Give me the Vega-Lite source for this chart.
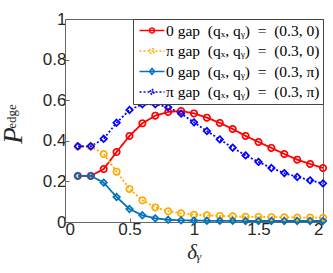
{
  "$schema": "https://vega.github.io/schema/vega-lite/v6.json",
  "autosize": {"type": "none"},
  "width": 258,
  "height": 203,
  "padding": {"left": 65, "top": 19, "right": 10, "bottom": 51},
  "background": "white",
  "config": {
    "view": {"stroke": "#666", "strokeWidth": 1},
    "axis": {
      "grid": false,
      "labelFont": "Liberation Sans",
      "labelFontSize": 17,
      "labelColor": "#262626",
      "domainColor": "#666",
      "tickColor": "#666",
      "tickSize": -4,
      "labelPadding": 3
    }
  },
  "data": {
    "values": [
      {"x": 0.1, "a": 0.227, "b": 0.372, "c": 0.227, "d": 0.373},
      {"x": 0.2, "a": 0.227, "b": 0.372, "c": 0.227, "d": 0.373},
      {"x": 0.3, "a": 0.261, "b": 0.335, "c": 0.194, "d": 0.410},
      {"x": 0.4, "a": 0.345, "b": 0.248, "c": 0.123, "d": 0.489},
      {"x": 0.5, "a": 0.424, "b": 0.163, "c": 0.064, "d": 0.552},
      {"x": 0.6, "a": 0.486, "b": 0.107, "c": 0.033, "d": 0.580},
      {"x": 0.7, "a": 0.524, "b": 0.072, "c": 0.018, "d": 0.580},
      {"x": 0.8, "a": 0.542, "b": 0.053, "c": 0.011, "d": 0.565},
      {"x": 0.9, "a": 0.547, "b": 0.043, "c": 0.008, "d": 0.534},
      {"x": 1.0, "a": 0.535, "b": 0.036, "c": 0.007, "d": 0.491},
      {"x": 1.1, "a": 0.514, "b": 0.033, "c": 0.006, "d": 0.448},
      {"x": 1.2, "a": 0.488, "b": 0.030, "c": 0.006, "d": 0.407},
      {"x": 1.3, "a": 0.458, "b": 0.028, "c": 0.006, "d": 0.366},
      {"x": 1.4, "a": 0.424, "b": 0.026, "c": 0.005, "d": 0.328},
      {"x": 1.5, "a": 0.394, "b": 0.025, "c": 0.005, "d": 0.296},
      {"x": 1.6, "a": 0.365, "b": 0.024, "c": 0.005, "d": 0.266},
      {"x": 1.7, "a": 0.335, "b": 0.023, "c": 0.005, "d": 0.241},
      {"x": 1.8, "a": 0.307, "b": 0.022, "c": 0.005, "d": 0.222},
      {"x": 1.9, "a": 0.286, "b": 0.022, "c": 0.005, "d": 0.205},
      {"x": 2.0, "a": 0.266, "b": 0.021, "c": 0.005, "d": 0.190}
    ]
  },
  "transform": [{"fold": ["a", "b", "c", "d"], "as": ["s", "v"]}],
  "encoding": {
    "x": {
      "field": "x", "type": "quantitative",
      "scale": {"domain": [0, 2], "nice": false},
      "axis": {"values": [0, 0.5, 1, 1.5, 2], "format": "~g", "title": "δᵧ",
        "titleFont": "Liberation Serif", "titleFontStyle": "italic", "titleFontWeight": "normal",
        "titleFontSize": 21, "titlePadding": 4, "titleColor": "#262626"}
    },
    "color": {
      "field": "s", "type": "nominal",
      "scale": {"domain": ["a", "b", "c", "d"], "range": ["#FF0000", "#FFAA00", "#0072BD", "#0000FF"]},
      "legend": {
        "title": null, "orient": "top-right", "offset": 0, "padding": 3,
        "strokeColor": "#444", "fillColor": "white",
        "labelFont": "Liberation Serif", "labelFontSize": 15.5, "labelColor": "black", "labelLimit": 400,
        "labelOffset": 13, "rowPadding": 3.5,
        "symbolSize": 225, "symbolStrokeWidth": 1.5, "symbolOpacity": 1,
        "labelExpr": "datum.label == 'a' ? '0 gap\u2002(qₓ, qᵧ)\u2002=\u2002(0.3, 0)' : datum.label == 'b' ? 'π gap\u2002(qₓ, qᵧ)\u2002=\u2002(0.3, 0)' : datum.label == 'c' ? '0 gap\u2002(qₓ, qᵧ)\u2002=\u2002(0.3, π)' : 'π gap\u2002(qₓ, qᵧ)\u2002=\u2002(0.3, π)'"
      }
    },
    "strokeDash": {
      "field": "s", "type": "nominal",
      "scale": {"domain": ["a", "b", "c", "d"], "range": [[1, 0], [2, 2], [1, 0], [2, 2]]}
    }
  },
  "layer": [
    {
      "encoding": {
        "y": {
          "field": "v", "type": "quantitative",
          "scale": {"domain": [0, 1], "nice": false},
          "axis": {"orient": "left", "values": [0, 0.2, 0.4, 0.6, 0.8, 1], "format": "~g", "title": "P",
            "titleFont": "Liberation Serif", "titleFontStyle": "italic", "titleFontWeight": "normal",
            "titleFontSize": 27, "titleColor": "#262626", "titleAngle": 270,
            "titleX": -44, "titleY": 116, "titleAlign": "center", "titleBaseline": "alphabetic"}
        }
      },
      "layer": [
        {
          "mark": {"type": "line", "strokeWidth": 1.8}
        },
        {
          "transform": [{"filter": "datum.s == 'a' || datum.s == 'b'"}],
          "mark": {"type": "point", "shape": "circle", "filled": false, "size": 40, "strokeWidth": 1.7, "opacity": 1},
          "encoding": {"strokeDash": {"value": [1, 0]}}
        },
        {
          "transform": [{"filter": "datum.s == 'c' || datum.s == 'd'"}],
          "mark": {"type": "point", "shape": "diamond", "filled": false, "size": 42, "strokeWidth": 1.7, "opacity": 1},
          "encoding": {"strokeDash": {"value": [1, 0]}}
        }
      ]
    },
    {
      "mark": {"type": "point", "filled": false, "opacity": 0},
      "encoding": {
        "shape": {
          "field": "s", "type": "nominal",
          "scale": {"domain": ["a", "b", "c", "d"], "range": [
            "M-0.667,0H2.667M0.667,0A0.333,0.333,0,1,1,1.333,0A0.333,0.333,0,1,1,0.667,0Z",
            "M-0.667,0H2.667M0.667,0A0.333,0.333,0,1,1,1.333,0A0.333,0.333,0,1,1,0.667,0Z",
            "M-0.667,0H2.667M1,-0.4L1.333,0L1,0.4L0.667,0Z",
            "M-0.667,0H2.667M1,-0.4L1.333,0L1,0.4L0.667,0Z"
          ]}
        },
        "y": {
          "field": "v", "type": "quantitative",
          "scale": {"domain": [0, 1], "nice": false},
          "axis": {"orient": "left", "labels": false, "ticks": false, "domain": false, "title": "edge",
            "titleFont": "Liberation Serif", "titleFontStyle": "normal", "titleFontWeight": "normal",
            "titleFontSize": 13, "titleColor": "#262626", "titleAngle": 270,
            "titleX": -50, "titleY": 97, "titleAlign": "center", "titleBaseline": "alphabetic"}
        }
      }
    }
  ],
  "resolve": {"scale": {"y": "independent"}}
}
